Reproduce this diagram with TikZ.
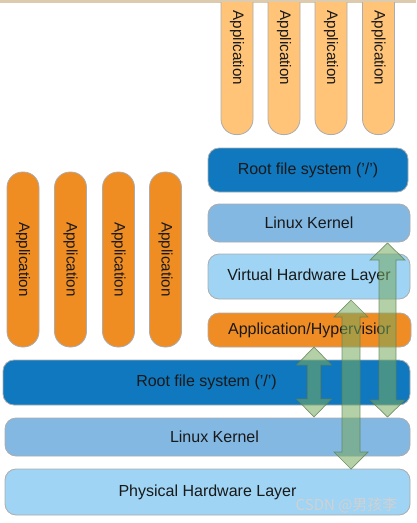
\documentclass[tikz,border=0pt]{standalone}
\usepackage{fontspec}
\setmainfont{Liberation Sans}
\newfontfamily\cjk{Noto Sans CJK SC}
\definecolor{appLight}{HTML}{FFC477}
\definecolor{appDark}{HTML}{EF8D23}
\definecolor{rootBlue}{HTML}{0F78BE}
\definecolor{kernBlue}{HTML}{83B8E3}
\definecolor{hwBlue}{HTML}{9FD4F4}
\definecolor{hypOrange}{HTML}{F08C24}
\definecolor{arrowFill}{HTML}{76A95F}
\definecolor{arrowLine}{HTML}{5E7F55}
\definecolor{beige}{HTML}{DCCBAE}
\tikzset{
  layer/.style={draw=gray!65, line width=0.8pt, rounded corners=11pt, inner sep=0pt,
    font=\fontsize{16}{18}\selectfont, text=black!90},
  appbox/.style={draw=gray!65, line width=0.8pt, rounded corners=15.5pt, inner sep=0pt,
    minimum width=32pt, font=\fontsize{15.2}{17}\selectfont, text=black!90},
  garrow/.style={fill=arrowFill, fill opacity=0.55, draw=arrowLine, draw opacity=0.8, line width=0.7pt, line join=miter}
}
\newcommand\dblarrow[6]{% x, ytop, ybot, shaft half, head half, head length
  \filldraw[garrow] (#1,#2) -- ({#1+#5},{#2+#6}) -- ({#1+#4},{#2+#6}) -- ({#1+#4},{#3-#6})
    -- ({#1+#5},{#3-#6}) -- (#1,#3) -- ({#1-#5},{#3-#6}) -- ({#1-#4},{#3-#6})
    -- ({#1-#4},{#2+#6}) -- ({#1-#5},{#2+#6}) -- cycle;}
\begin{document}
\begin{tikzpicture}[x=1pt,y=-1pt]
\useasboundingbox (0,0) rectangle (416,523);
\fill[beige] (0,0) rectangle (416,2.5);
% top applications (clipped at the top edge)
\begin{scope}
\clip (0,2.5) rectangle (416,523);
\foreach \i/\x in {1/237, 2/284, 3/331, 4/378.5}{
  \node[appbox, fill=appLight, minimum height=150pt, anchor=south] (topapp\i) at (\x,135) {};
  \node[rotate=-90, font=\fontsize{15.2}{17}\selectfont, text=black!90] (topapptext\i) at (\x,48) {Application};
}
\end{scope}
% right stack
\node[layer, fill=rootBlue, minimum width=200pt, minimum height=44pt] (rootTop) at (308,170) {Root file system ('/')};
\node[layer, fill=kernBlue, minimum width=202pt, minimum height=38pt] (kernTop) at (309,223) {Linux Kernel};
\node[layer, fill=hwBlue, minimum width=202pt, minimum height=45pt] (virt) at (309,276.5) {Virtual Hardware Layer};
\node[layer, fill=hypOrange, minimum width=203pt, minimum height=34pt] (hyp) at (309.5,330) {Application/Hypervisior};
% left applications
\foreach \i/\x in {1/23, 2/70.5, 3/118.5, 4/165.5}{
  \node[appbox, fill=appDark, minimum height=175pt] (leftapp\i) at (\x,259.5) {};
  \node[rotate=-90, font=\fontsize{15.2}{17}\selectfont, text=black!90] (leftapptext\i) at (\x,259.5) {Application};
}
% bottom stack
\node[layer, fill=rootBlue, minimum width=407pt, minimum height=45pt] (rootBot) at (206.5,382.5) {Root file system ('/')};
\node[layer, fill=kernBlue, minimum width=405pt, minimum height=38pt] (kernBot) at (207.5,437) {\hspace*{14pt}Linux Kernel};
\node[layer, fill=hwBlue, minimum width=405pt, minimum height=46pt] (phys) at (207.5,492) {Physical Hardware Layer};
% double arrows
\dblarrow{314}{347}{417}{6.5}{17.5}{18}
\dblarrow{351}{300}{469}{9}{17}{17}
\dblarrow{387.5}{243}{417}{8.5}{17.5}{17}
% watermark
\node[font=\cjk\fontsize{15}{17}\selectfont, text=white!82!black, anchor=east] (wm) at (401,505) {CSDN @男孩李};
\end{tikzpicture}
\end{document}
